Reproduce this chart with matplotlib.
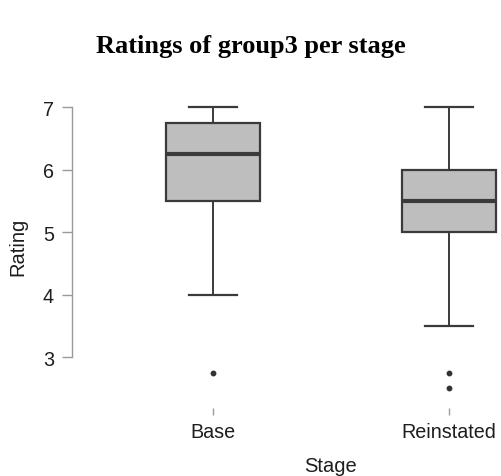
import matplotlib.pyplot as plt

# Summary statistics per stage
stages = ['Base', 'Reinstated']
q1 = [5.5, 5.0]
medians = [6.25, 5.5]
q3 = [6.75, 6.0]
whisker_low = [4.0, 3.5]
whisker_high = [7.0, 7.0]
outliers = [[2.75], [2.75, 2.5]]

stats = []
for i, name in enumerate(stages):
    stats.append({
        'label': name,
        'q1': q1[i],
        'med': medians[i],
        'q3': q3[i],
        'whislo': whisker_low[i],
        'whishi': whisker_high[i],
        'fliers': outliers[i],
    })

plt.rcParams['font.family'] = ['Liberation Sans', 'DejaVu Sans']

fig = plt.figure(figsize=(5.01, 4.77), dpi=100)
W, H = 501, 477
ax = fig.add_axes([72 / W, (H - 409) / H, (501 - 72) / W, 309 / H])

edge = '#3a3a3a'
ax.bxp(
    stats,
    positions=[1, 2],
    widths=0.40,
    capwidths=0.20,
    patch_artist=True,
    boxprops=dict(facecolor='#bebebe', edgecolor=edge, linewidth=1.6),
    whiskerprops=dict(color=edge, linewidth=1.4),
    capprops=dict(color=edge, linewidth=1.6),
    medianprops=dict(color=edge, linewidth=3.0),
    flierprops=dict(marker='o', markersize=3.2, markerfacecolor='#333333',
                    markeredgecolor='#333333'),
)

ax.set_xlim(0.403, 2.22)
ax.set_ylim(2.184, 7.128)
ax.set_yticks([3, 4, 5, 6, 7])
ax.set_xticks([1, 2])
ax.set_xticklabels(stages)

for side in ['top', 'right', 'bottom']:
    ax.spines[side].set_visible(False)
ax.spines['left'].set_bounds(3, 7)
ax.spines['left'].set_color('#9a9a9a')
ax.spines['left'].set_linewidth(1.0)

ax.tick_params(axis='y', length=7, width=1.0, color='#9a9a9a',
               labelsize=14.2, pad=6, labelcolor='#1e1e1e')
ax.tick_params(axis='x', length=5, width=1.0, color='#9a9a9a',
               labelsize=14.2, pad=5, labelcolor='#1e1e1e')

ax.set_ylabel('Rating', fontsize=14.5, color='#1e1e1e')
ax.yaxis.set_label_coords(-54 / 429, (409 - 247) / 309)
ax.set_xlabel('Stage', fontsize=14.5, color='#1e1e1e')
ax.xaxis.set_label_coords((331 - 72) / 429, -(467 - 409) / 309)
ax.xaxis.label.set_va('center')
ax.yaxis.label.set_va('center')

fig.text(0.5, 1 - 47 / H, 'Ratings of group3 per stage', ha='center',
         va='center', fontsize=19, fontweight='bold',
         family=['Liberation Serif', 'DejaVu Serif'])

fig.savefig('out.png', dpi=100, facecolor='white')
